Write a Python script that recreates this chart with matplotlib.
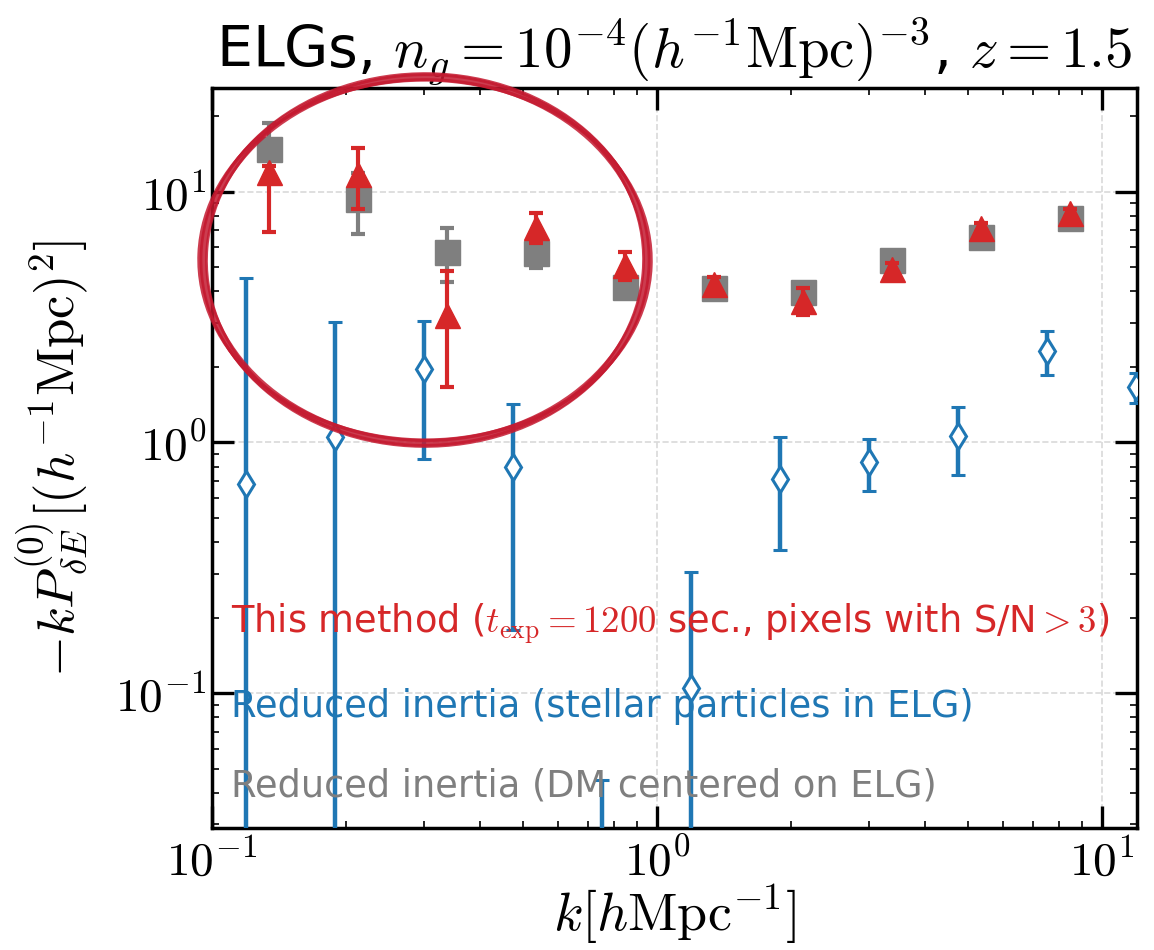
import numpy as np
import matplotlib
matplotlib.use("Agg")
import matplotlib.pyplot as plt
from matplotlib.lines import Line2D
from matplotlib.patches import Ellipse
from matplotlib.ticker import FuncFormatter

plt.rcParams['font.family'] = ['DejaVu Sans']
plt.rcParams['mathtext.fontset'] = 'cm'

# k bins (h/Mpc); blue points are slightly shifted left for readability
k_dm = [0.134, 0.213, 0.338, 0.535, 0.848, 1.34, 2.13, 3.38, 5.35, 8.48]
k_method = [0.134, 0.213, 0.338, 0.535, 0.848, 1.34, 2.13, 3.38, 5.35, 8.48]
k_stellar = [0.119, 0.189, 0.300, 0.475, 0.753, 1.19, 1.89, 3.00, 4.75, 7.53, 11.9]

# -k P_{dE}^{(0)}  for each estimator
p_dm = [14.8, 9.34, 5.75, 5.67, 4.17, 4.13, 3.98, 5.33, 6.61, 7.82]
err_dm = [4.0, 2.57, 1.4, 0.73, 0.4, 0.3, 0.3, 0.3, 0.3, 0.3]

p_method = [12.0, 11.75, 3.22, 7.22, 5.09, 4.28, 3.67, 4.91, 7.19, 8.23]
err_method_lo = [5.1, 3.2, 1.55, 1.0, 0.65, 0.3, 0.45, 0.3, 0.3, 0.3]
err_method_hi = [0.6, 3.2, 1.6, 1.0, 0.65, 0.3, 0.45, 0.3, 0.3, 0.3]

p_stellar = [0.68, 1.05, 1.955, 0.799, -0.3, 0.1045, 0.714, 0.837, 1.06, 2.32, 1.666]
err_stellar = [3.83, 1.98, 1.1, 0.62, 0.345, 0.2, 0.34, 0.195, 0.32, 0.46, 0.23]

labels = [r'This method ($t_{\rm exp}=1200$ sec., pixels with S/N$>3$)',
          'Reduced inertia (stellar particles in ELG)',
          'Reduced inertia (DM centered on ELG)']
colors = ['#d62728', '#1f77b4', '#7f7f7f']

fig = plt.figure(figsize=(11.54, 9.5), dpi=100)
ax = fig.add_axes([0.1837, 0.1284, 0.8016, 0.7790])
ax.set_xscale('log')
ax.set_yscale('log')

ax.errorbar(k_dm, p_dm, yerr=err_dm, fmt='s', ms=18, color=colors[2],
            elinewidth=3, capsize=5, capthick=3, zorder=3)
ax.errorbar(k_method, p_method, yerr=[err_method_lo, err_method_hi], fmt='^', ms=18,
            color=colors[0], elinewidth=3, capsize=5, capthick=3, zorder=4)
ax.errorbar(k_stellar, p_stellar, yerr=err_stellar, fmt='d', ms=13, color=colors[1],
            mfc='white', mec=colors[1], mew=2.2, elinewidth=3.2, capsize=5, capthick=3, zorder=5)

ax.set_xlim(0.1, 11.98)
ax.set_ylim(0.029, 25.9)
ax.grid(True, which='major', ls='--', color='#d9d9d9', lw=1.2)

decade = FuncFormatter(lambda v, pos: r'$10^{%d}$' % round(np.log10(v)))
ax.xaxis.set_major_formatter(decade)
ax.yaxis.set_major_formatter(decade)
ax.tick_params(which='both', direction='in', top=True, right=True, labelsize=34)
ax.tick_params(which='major', length=16, width=2.4)
ax.tick_params(axis='x', which='major', pad=8)
ax.tick_params(axis='y', which='major', pad=4)
ax.tick_params(which='minor', length=5, width=1.2)
for s in ax.spines.values():
    s.set_linewidth(2.5)

ax.set_xlabel(r'$k[h{\rm Mpc}^{-1}]$', fontsize=39, labelpad=-2)
ax.set_ylabel(r'$-kP^{(0)}_{\delta E}[(h^{-1}{\rm Mpc})^2]$', fontsize=38)
ax.yaxis.set_label_coords(-0.132, 0.5)
ax.set_title(r'ELGs, $n_g=10^{-4}(h^{-1}{\rm Mpc})^{-3}$, $z=1.5$', fontsize=41, pad=12)

handles = [Line2D([], [], ls='none', color=c) for c in colors]
ax.legend(handles, labels, loc='lower left', bbox_to_anchor=(0.021, 0.032),
          frameon=False, handlelength=0, handletextpad=0, labelcolor=colors,
          fontsize=26.5, labelspacing=1.15, borderaxespad=0, borderpad=0)

# hand-drawn style circle around the low-k points
for dw, dh, ang, lw in [(0.0, 0.0, -3, 5.0), (0.007, -0.005, -2, 2.5),
                        (-0.006, 0.006, -4, 2.0), (0.003, 0.009, -1, 1.5)]:
    e = Ellipse((0.3683, 0.7263), 0.3847 + dw, 0.3842 + dh, angle=ang,
                transform=fig.transFigure, fill=False, ec='#c41a30', lw=lw,
                alpha=0.85, clip_on=False, zorder=10)
    fig.add_artist(e)

fig.savefig('out.png', dpi=100)
